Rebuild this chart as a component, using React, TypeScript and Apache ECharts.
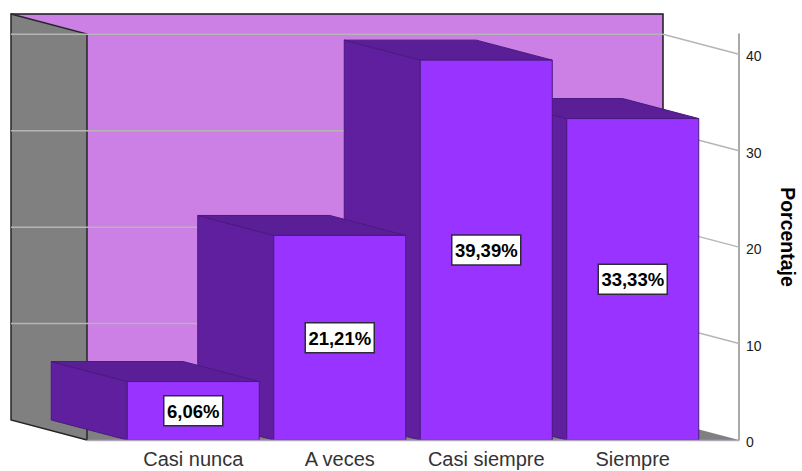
import React, { useEffect, useRef } from "react";
import * as echarts from "echarts";

const categories = ["Casi nunca", "A veces", "Casi siempre", "Siempre"];
const percentages = [6.06, 21.21, 39.39, 33.33];
const percentageLabels = ["6,06%", "21,21%", "39,39%", "33,33%"];
const gridTicks = [0, 10, 20, 30, 40];

// Oblique projection of the chart box: how far the back plane sits from the front one.
const DEPTH_X = -76;
const DEPTH_Y = -20;
const FRONT_LEFT = 87;
const FRONT_RIGHT = 739;
const BAR_WIDTH = 132;

const FRONT_COLOR = "#9933ff";
const SIDE_COLOR = "#5f1f9f";
const TOP_COLOR = "#5a1f96";
const BAR_EDGE = "#4a1a80";
const WALL_COLOR = "#cc7fe5";
const SIDE_WALL_COLOR = "#808080";
const GRID_COLOR = "#b5b5b5";
const FONT = '"Liberation Sans", Arial, sans-serif';

const polygon = (points: number[][], fill: string, stroke: string | null, lineWidth = 1) => ({
  type: "polygon",
  shape: { points },
  style: { fill, stroke: stroke ?? undefined, lineWidth },
});

const polyline = (points: number[][], stroke: string, lineWidth = 1) => ({
  type: "polyline",
  shape: { points },
  style: { fill: "none", stroke, lineWidth },
});

// Back wall, side wall and floor of the box.
const renderWalls = (_: any, api: any) => {
  const floorY = api.coord([0, 0])[1];
  const topY = api.coord([0, 42.1])[1];
  const bl = FRONT_LEFT + DEPTH_X;
  const br = FRONT_RIGHT + DEPTH_X;
  const by = topY + DEPTH_Y;
  const bf = floorY + DEPTH_Y;
  return {
    type: "group",
    children: [
      polygon([[bl, by], [br, by], [br, bf], [bl, bf]], WALL_COLOR, null),
      polygon([[bl, bf], [FRONT_LEFT, floorY], [FRONT_RIGHT, floorY], [br, bf]], SIDE_WALL_COLOR, null),
      polygon([[bl, by], [FRONT_LEFT, topY], [FRONT_LEFT, floorY], [bl, bf]], SIDE_WALL_COLOR, null),
      polyline([[bl, by], [br, by], [br, bf]], "#1a1a1a", 1.5),
      polyline([[FRONT_LEFT, floorY], [bl, bf], [bl, by], [FRONT_LEFT, topY], [FRONT_LEFT, floorY]], "#262626", 1.5),
    ],
  };
};

// One horizontal rule on the back wall, bent down the right wall to the value axis.
const renderGridLine = (_: any, api: any) => {
  const y = api.coord([0, api.value(0)])[1];
  const bl = FRONT_LEFT + DEPTH_X;
  const br = FRONT_RIGHT + DEPTH_X;
  return polyline([[bl, y + DEPTH_Y], [br, y + DEPTH_Y], [FRONT_RIGHT, y]], GRID_COLOR, 1.5);
};

const renderBar = (params: any, api: any) => {
  const index = api.value(0);
  const value = api.value(1);
  const [cx, top] = api.coord([index, value]);
  const bottom = api.coord([index, 0])[1];
  const left = cx - BAR_WIDTH / 2;
  const right = cx + BAR_WIDTH / 2;
  const label = percentageLabels[index];
  const boxWidth = label.length > 5 ? 69 : 59;
  const middle = (top + bottom) / 2;
  return {
    type: "group",
    children: [
      polygon(
        [[left, top], [left + DEPTH_X, top + DEPTH_Y], [left + DEPTH_X, bottom + DEPTH_Y], [left, bottom]],
        SIDE_COLOR,
        BAR_EDGE,
      ),
      polygon(
        [[left, top], [left + DEPTH_X, top + DEPTH_Y], [right + DEPTH_X, top + DEPTH_Y], [right, top]],
        TOP_COLOR,
        BAR_EDGE,
      ),
      polygon([[left, top], [right, top], [right, bottom], [left, bottom]], FRONT_COLOR, BAR_EDGE),
      {
        type: "rect",
        shape: { x: cx - boxWidth / 2, y: middle - 15, width: boxWidth, height: 30 },
        style: { fill: "#ffffff", stroke: "#2e2a3a", lineWidth: 1.5 },
      },
      {
        type: "text",
        style: {
          x: cx,
          y: middle + 0.5,
          text: label,
          fill: "#000000",
          font: `bold 18.5px ${FONT}`,
          align: "center",
          verticalAlign: "middle",
        },
      },
    ],
  };
};

export default function App() {
  const ref = useRef<HTMLDivElement>(null);

  useEffect(() => {
    const chart = echarts.init(ref.current!, undefined, { renderer: "svg" });
    chart.setOption({
      animation: false,
      backgroundColor: "#ffffff",
      grid: { left: 120, right: 96, top: 34, bottom: 31, outerBoundsMode: "none" },
      xAxis: {
        type: "category",
        data: categories,
        axisLine: { show: false },
        axisTick: { show: false },
        axisLabel: {
          color: "#333333",
          fontFamily: FONT,
          fontSize: 20,
          margin: 9,
          interval: 0,
        },
      },
      yAxis: {
        type: "value",
        position: "right",
        offset: 33,
        min: 0,
        max: 42.1,
        interval: 10,
        name: "Porcentaje",
        nameLocation: "middle",
        nameRotate: -90,
        nameGap: 39,
        nameTextStyle: {
          color: "#000000",
          fontFamily: FONT,
          fontSize: 19.5,
          fontWeight: "bold",
        },
        splitLine: { show: false },
        axisTick: { show: false },
        axisLine: { show: true, lineStyle: { color: "#8c8c8c", width: 1.5 } },
        axisLabel: {
          margin: 7,
          showMaxLabel: false,
          // Tick numbers sit slightly below their rule.
          formatter: (v: number) => `{tick|${v}}`,
          rich: {
            tick: {
              color: "#1a1a1a",
              fontFamily: FONT,
              fontSize: 14,
              padding: [4, 0, 0, 0],
            },
          },
        },
      },
      series: [
        { type: "custom", renderItem: renderWalls, data: [[0]], z: 1, silent: true },
        {
          type: "custom",
          renderItem: renderGridLine,
          data: gridTicks.filter((t) => t > 0).map((t) => [t]),
          encode: { y: 0 },
          z: 2,
          silent: true,
        },
        {
          // Painted right to left: a nearer bar's front covers its neighbour's side face.
          type: "custom",
          renderItem: renderBar,
          data: percentages.map((v, i) => [i, v]).reverse(),
          encode: { x: 0, y: 1 },
          z: 3,
          silent: true,
        },
      ],
      graphic: [
        {
          type: "line",
          shape: { x1: FRONT_LEFT, y1: 440.5, x2: FRONT_RIGHT, y2: 440.5 },
          style: { stroke: "#b0a8b8", lineWidth: 1.5 },
          z: 10,
        },
      ],
    });
    return () => chart.dispose();
  }, []);

  return <div ref={ref} style={{ position: "fixed", left: 0, top: 0, width: 802, height: 471 }} />;
}
